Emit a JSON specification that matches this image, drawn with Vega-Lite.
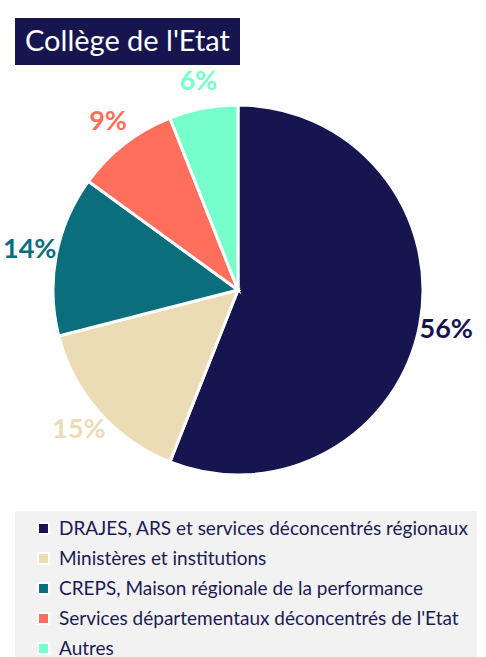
{
  "$schema": "https://vega.github.io/schema/vega-lite/v6.json",
  "background": "white",
  "padding": {"left": 3, "top": 18, "right": 0, "bottom": 0},
  "config": {"font": "Lato", "view": {"stroke": null}},
  "spacing": 2,
  "resolve": {"scale": {"color": "independent"}, "legend": {"color": "independent"}},
  "vconcat": [
    {
      "width": 225,
      "height": 47,
      "view": {"fill": "#17154F", "stroke": null},
      "data": {"values": [{"t": "Collège de l'Etat"}]},
      "mark": {"type": "text", "color": "white", "fontSize": 29, "font": "Lato", "baseline": "middle", "align": "center"},
      "encoding": {"text": {"field": "t"}}
    },
    {
      "width": 446,
      "height": 430,
      "data": {"values": [
        {"cat": "DRAJES, ARS et services déconcentrés régionaux", "value": 0.56, "rank": 1},
        {"cat": "Ministères et institutions", "value": 0.15, "rank": 2},
        {"cat": "CREPS, Maison régionale de la performance", "value": 0.14, "rank": 3},
        {"cat": "Services départementaux déconcentrés de l'Etat", "value": 0.09, "rank": 4},
        {"cat": "Autres", "value": 0.06, "rank": 5}
      ]},
      "layer": [
        {
          "mark": {"type": "arc", "outerRadius": 185, "stroke": "white", "strokeWidth": 3},
          "encoding": {
            "theta": {"field": "value", "type": "quantitative", "stack": true},
            "order": {"field": "rank", "type": "quantitative"},
            "color": {
              "field": "cat", "type": "nominal",
              "scale": {
                "domain": ["DRAJES, ARS et services déconcentrés régionaux", "Ministères et institutions", "CREPS, Maison régionale de la performance", "Services départementaux déconcentrés de l'Etat", "Autres"],
                "range": ["#17154F", "#EBDCB5", "#0B6E7D", "#FF6F5B", "#76FFCC"]
              },
              "legend": {
                "orient": "bottom",
                "direction": "vertical",
                "title": null,
                "fillColor": "#F2F2F2",
                "padding": 8,
                "offset": 6,
                "labelFontSize": 19,
                "labelFont": "Lato",
                "labelColor": "#1D1B54",
                "labelLimit": 600,
                "labelOffset": 6,
                "symbolOffset": 11,
                "symbolType": "square",
                "symbolSize": 120,
                "symbolStrokeColor": "white",
                "symbolStrokeWidth": 2,
                "rowPadding": 10
              }
            }
          }
        },
        {
          "mark": {"type": "text", "radius": 212, "fontSize": 27, "fontWeight": "bold", "font": "Lato"},
          "encoding": {
            "theta": {"field": "value", "type": "quantitative", "stack": true},
            "order": {"field": "rank", "type": "quantitative"},
            "text": {"field": "value", "type": "quantitative", "format": ".0%"},
            "color": {
              "field": "cat", "type": "nominal",
              "scale": {
                "domain": ["DRAJES, ARS et services déconcentrés régionaux", "Ministères et institutions", "CREPS, Maison régionale de la performance", "Services départementaux déconcentrés de l'Etat", "Autres"],
                "range": ["#17154F", "#EBDCB5", "#0B6E7D", "#FF6F5B", "#76FFCC"]
              },
              "legend": null
            }
          }
        }
      ]
    }
  ]
}
